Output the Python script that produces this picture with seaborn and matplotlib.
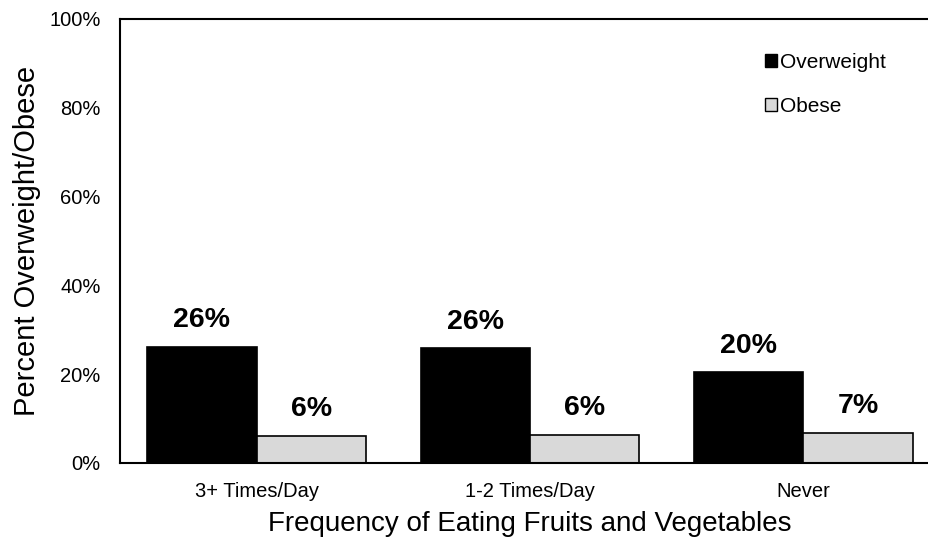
import pandas as pd
import numpy as np
import matplotlib.pyplot as plt
import seaborn as sns
from matplotlib.patches import Patch

sns.set_theme(style="white")
plt.rcParams['font.family'] = ['Liberation Sans', 'DejaVu Sans']
plt.rcParams['text.color'] = 'black'
plt.rcParams['axes.labelcolor'] = 'black'
plt.rcParams['xtick.color'] = 'black'
plt.rcParams['ytick.color'] = 'black'

categories = ['3+ Times/Day', '1-2 Times/Day', 'Never']
overweight = [26.1, 25.8, 20.4]
obese = [6.0, 6.3, 6.7]
series = ['Overweight', 'Obese']
yticks = [0, 20, 40, 60, 80, 100]

df = pd.DataFrame({
    'Frequency': categories * 2,
    'Group': ['Overweight'] * 3 + ['Obese'] * 3,
    'Percent': overweight + obese,
})

fig = plt.figure(figsize=(9.29, 5.42), dpi=100)
# right edge of the frame falls just outside the picture, as in the original
ax = fig.add_axes([120 / 929, 1 - 463 / 542, 820 / 929, 444 / 542])

sns.barplot(data=df, x='Frequency', y='Percent', hue='Group', order=categories,
            hue_order=series, palette=['black', '#d9d9d9'], edgecolor='black',
            linewidth=1.2, width=0.8, ax=ax, legend=False)

for container in ax.containers:
    ax.bar_label(container, labels=[f'{v:.0f}%' for v in container.datavalues],
                 padding=10, fontsize=20.5, fontweight='bold', color='black')

ax.set_ylim(0, 100)
ax.set_yticks(yticks)
ax.set_yticklabels([f'{t}%' for t in yticks], fontsize=14.5)
ax.tick_params(axis='x', labelsize=14.5, length=0, pad=14)
ax.tick_params(axis='y', length=0, pad=14)
ax.set_xlabel('Frequency of Eating Fruits and Vegetables', fontsize=20, labelpad=7)
ax.set_ylabel('Percent Overweight/Obese', fontsize=21, labelpad=6)
for s in ax.spines.values():
    s.set_color('black')
    s.set_linewidth(1.5)

handles = [Patch(facecolor='black', edgecolor='black'),
           Patch(facecolor='#d9d9d9', edgecolor='black')]
ax.legend(handles, series, loc='upper left', bbox_to_anchor=(0.776, 0.943),
          frameon=False, fontsize=15, handlelength=0.6, handleheight=0.6,
          handletextpad=0.15, labelspacing=1.2, borderaxespad=0)

fig.savefig('out.png', dpi=100)
